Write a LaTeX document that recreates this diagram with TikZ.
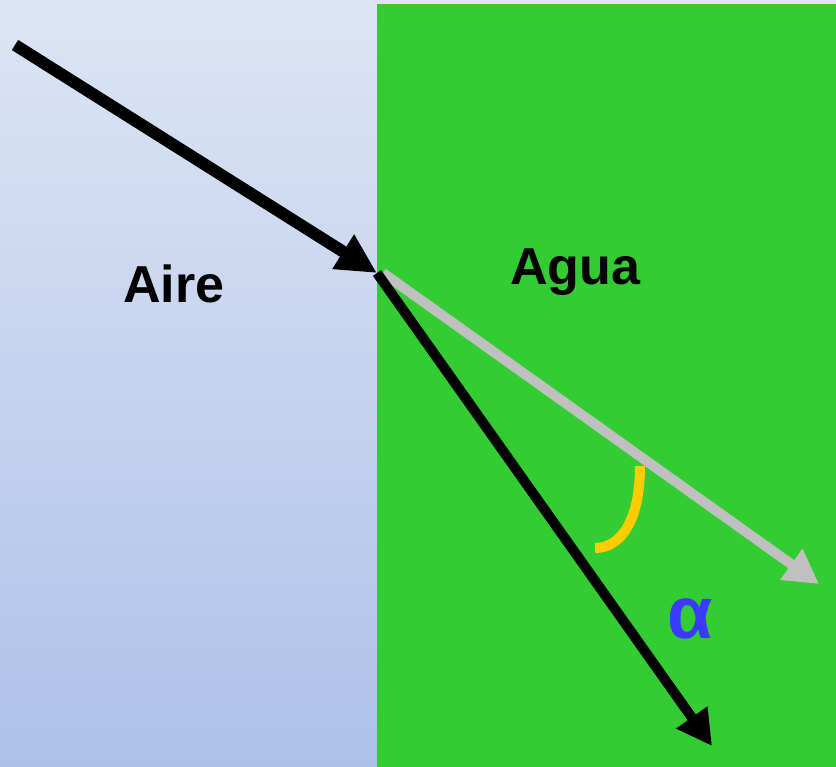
\documentclass[tikz,border=0pt]{standalone}
\usepackage{fontspec}
\setmainfont{Liberation Sans}
\usetikzlibrary{arrows.meta,positioning,calc}
\definecolor{airTop}{HTML}{DDE5F5}
\definecolor{airBot}{HTML}{ADC1E8}
\definecolor{water}{HTML}{33CC33}
\definecolor{refr}{HTML}{C0C0C0}
\definecolor{angle}{HTML}{FFCC00}
\definecolor{alphaBlue}{HTML}{3A3AFF}
\tikzset{
  ray/.style={line width=12pt, draw=black, -{Triangle[length=40pt,width=38pt]}},
  rayThin/.style={line width=10pt, -{Triangle[length=35pt,width=36pt]}},
  medium/.style={font=\bfseries\fontsize{52}{52}\selectfont, inner sep=0pt}
}
\begin{document}
\begin{tikzpicture}[x=1pt,y=-1pt]
    \useasboundingbox (0,0) rectangle (836,767);
    % media
    \shade[top color=airTop, bottom color=airBot] (0,0) rectangle (836,767);
    \fill[water] (377,4) rectangle (836,767);

    \node[medium] (aire) at (174,284) {Aire};
    \node[medium] (agua) at (575,272) {Agua};

    \coordinate (src) at (15,45);
    \coordinate (hit) at (377,273);
    \coordinate (grayEnd) at (819,584);
    \coordinate (blackEnd) at (712,746);

    % rays
    \draw[rayThin, draw=refr, -{Triangle[length=34pt,width=36pt]}] ($(hit)+(6,0)$) -- (grayEnd);
    \draw[rayThin, draw=black] (hit) -- (blackEnd);
    \draw[ray] (src) -- (hit);

    % angle
    \draw[angle, line width=10pt] (640,466) .. controls (640,522) and (620,548) .. (595,548);
    \node[font=\bfseries\fontsize{74}{74}\selectfont, text=alphaBlue, inner sep=0pt] (alpha) at (690,619) {α};
\end{tikzpicture}
\end{document}
